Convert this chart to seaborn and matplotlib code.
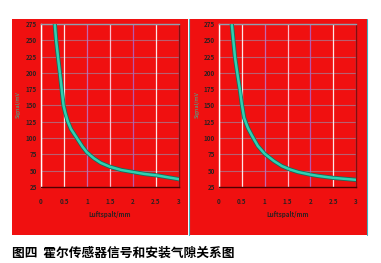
import matplotlib
matplotlib.use("Agg")
import matplotlib.pyplot as plt
from matplotlib.patches import Rectangle
import seaborn as sns
import pandas as pd

sns.set_theme(style="white")
plt.rcParams['font.family'] = ['Noto Sans CJK SC', 'DejaVu Sans']

# data
x_ticks = [0, 0.5, 1, 1.5, 2, 2.5, 3]
x_tick_labels = ["0", "0.5", "1", "1.5", "2", "2.5", "3"]
y_ticks = [25, 50, 75, 100, 125, 150, 175, 200, 225, 250, 275]
left_gap = [0.30, 0.33, 0.37, 0.41, 0.45, 0.49, 0.53, 0.58, 0.65, 0.78, 0.90, 1.0,
            1.15, 1.30, 1.5, 1.75, 2.0, 2.25, 2.5, 2.75, 3.0]
left_signal = [275, 249, 224, 200, 175, 150, 138, 126, 114, 100, 87, 78,
               69, 62, 56, 51, 48, 45, 43, 40, 37]
right_gap = [0.28, 0.35, 0.40, 0.46, 0.50, 0.55, 0.63, 0.72, 0.85, 1.0, 1.2, 1.38,
             1.55, 1.73, 2.0, 2.17, 2.5, 3.0]
right_signal = [275, 224, 200, 173, 152, 131, 116, 104, 88, 76, 65, 57,
                52, 48, 44, 42, 39, 36]
x_label = "Luftspalt/mm"
y_label = "Signal/mV"
caption = "图四  霍尔传感器信号和安装气隙关系图"

W, H = 381, 263
fig = plt.figure(figsize=(W / 100, H / 100), dpi=100, facecolor="white")

def fx(px):
    return px / W

def fy(py):
    return 1 - py / H

red = "#f01010"
# red panels
for (x0, x1) in [(12, 188), (190, 367)]:
    fig.patches.append(Rectangle((fx(x0), fy(235)), fx(x1) - fx(x0), fy(19) - fy(235),
                                 transform=fig.transFigure, facecolor=red,
                                 edgecolor="none", zorder=-5))
for xx in [189, 367]:
    fig.add_artist(plt.Line2D([fx(xx), fx(xx)], [fy(235), fy(19)],
                              transform=fig.transFigure, color="#40b0c0", lw=0.8, zorder=-4))

panels = [
    (41, 179, left_gap, left_signal, 18, 110),
    (219, 356, right_gap, right_signal, 197, 288),
]

vcols = ["#ffffff", "#ffffff", "#c070c0", "#ffd0e0", "#b060c0", "#ffffff", "#c080e0"]

for (px0, px1, gx, gy, ylx, xlx) in panels:
    ax = fig.add_axes([fx(px0), fy(187), fx(px1) - fx(px0), fy(24) - fy(187)])
    ax.set_zorder(2)
    ax.set_facecolor(red)
    ax.set_xlim(0, 3)
    ax.set_ylim(25, 275)
    for yt in y_ticks:
        ax.axhline(yt, color="#b86070", lw=0.8, zorder=1)
    for xt, c in zip(x_ticks, vcols):
        ax.axvline(xt, color=c, lw=0.9, zorder=1, alpha=0.9)
    df = pd.DataFrame({"gap": gx, "signal": gy})
    sns.lineplot(data=df, x="gap", y="signal", ax=ax, color="#107060", lw=3.0, zorder=3)
    sns.lineplot(data=df, x="gap", y="signal", ax=ax, color="#30d0b0", lw=1.8, zorder=4)
    ax.set_xticks(x_ticks)
    ax.set_xticklabels(x_tick_labels, fontsize=4.5, color="#302020", fontweight="bold")
    ax.set_yticks(y_ticks)
    ax.set_yticklabels([str(v) for v in y_ticks], fontsize=4.5, color="#302020", fontweight="bold")
    ax.tick_params(axis="y", length=0, pad=3)
    ax.tick_params(axis="x", length=0, pad=8)
    ax.set_xlabel("")
    ax.set_ylabel("")
    ax.spines["left"].set_color("#ffffff")
    ax.spines["top"].set_color("#90a0b0")
    ax.spines["right"].set_color("#801010")
    ax.spines["bottom"].set_color("#500000")
    for s in ax.spines.values():
        s.set_linewidth(1.0)
    fig.text(fx(xlx), fy(214), x_label, fontsize=4.5, color="#302020",
             ha="center", va="center", fontweight="bold")
    fig.text(fx(ylx), fy(105), y_label, fontsize=4, color="#30c0a0",
             rotation=90, ha="center", va="center")

fig.text(fx(12), fy(253), caption, fontsize=9.2, color="black",
         ha="left", va="center", fontweight="bold")

fig.savefig("out.png", dpi=100, facecolor="white")
